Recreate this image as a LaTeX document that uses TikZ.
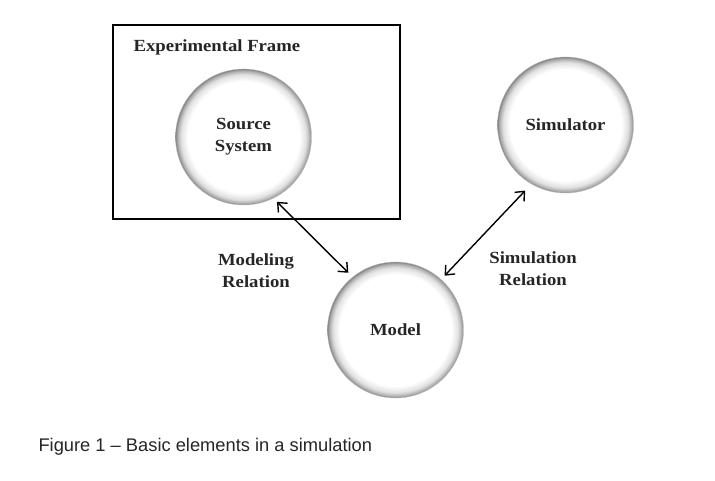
\documentclass[tikz,border=0pt]{standalone}
\usepackage{fontspec}
\setmainfont{Liberation Serif}[FakeStretch=1.1]
\newfontfamily\capfont{Liberation Sans}[Ligatures=TeX]
\usetikzlibrary{arrows.meta}
\pgfdeclareradialshading{ballrim}{\pgfpoint{0bp}{0bp}}{color(0bp)=(white); color(20.5bp)=(white); color(23bp)=(black!12); color(24.5bp)=(black!35); color(25bp)=(black!50); color(50bp)=(black!50)}
\begin{document}
\begin{tikzpicture}[x=1pt,y=-1pt,
  lbl/.style={font=\bfseries\fontsize{17}{22}\selectfont, align=center, text=black!85},
  ball/.style={circle, minimum size=136pt, inner sep=0pt, shading=ballrim, draw=black!25, line width=0.4pt, lbl},
  rel/.style={line width=1.4pt, {Straight Barb[length=7.5pt,width=13pt]}-{Straight Barb[length=7.5pt,width=13pt]}},
  frm/.style={draw, line width=1.6pt, minimum width=287pt, minimum height=194pt, inner sep=0pt}]
\useasboundingbox (0,0) rectangle (715,481);
\fill[white] (0,0) rectangle (715,481);
\node[frm] (frame) at (256.5,122) {};
\node[lbl, anchor=west] (frametitle) at (130,47) {Experimental Frame};
\node[ball] (src) at (243.5,137) {Source\\System};
\node[ball] (sim) at (565.5,125) {Simulator};
\node[ball] (mod) at (395.5,330) {Model};
\draw[rel, shorten <=5pt, shorten >=6pt] (src.-64) -- (mod.129);
\draw[rel, shorten <=5pt, shorten >=9pt] (mod.48) -- (sim.240);
\node[lbl] (modrel) at (256,271) {Modeling\\Relation};
\node[lbl] (simrel) at (533,269) {Simulation\\Relation};
\node[anchor=west, font=\capfont\fontsize{18.3}{20}\selectfont, text=black!85] (cap) at (35,447) {Figure 1 -- Basic elements in a simulation};
\end{tikzpicture}
\end{document}
